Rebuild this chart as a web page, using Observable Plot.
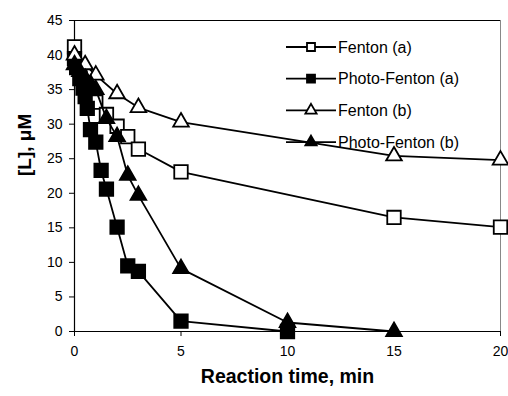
<!DOCTYPE html>
<html>
<head>
<meta charset="utf-8">
<script src="https://cdn.jsdelivr.net/npm/d3@7"></script>
<script src="https://cdn.jsdelivr.net/npm/@observablehq/plot@0.6"></script>
<style>
  html, body { margin: 0; padding: 0; background: #fff; }
  #chart svg { font-family: Arial, "Liberation Sans", sans-serif; }
</style>
</head>
<body>
<div id="chart"></div>
<script>
// Ligand concentration [L] (µM) vs reaction time (min)
const seriesNames = ["Fenton (a)", "Photo-Fenton (a)", "Fenton (b)", "Photo-Fenton (b)"];

const fentonA_t = [0, 0.25, 0.5, 1, 1.5, 2, 2.5, 3, 5, 15, 20];
const fentonA_v = [41.2, 38.0, 35.4, 33.2, 31.4, 29.7, 28.2, 26.4, 23.1, 16.5, 15.1];

const photoA_t = [0, 0.1, 0.25, 0.4, 0.5, 0.6, 0.75, 1, 1.25, 1.5, 2, 2.5, 3, 5, 10];
const photoA_v = [39.5, 38.2, 36.6, 35.2, 34.0, 32.3, 29.2, 27.4, 23.3, 20.6, 15.1, 9.5, 8.7, 1.5, 0];

const fentonB_t = [0, 0.5, 1, 2, 3, 5, 15, 20];
const fentonB_v = [40.0, 38.6, 37.1, 34.4, 32.4, 30.3, 25.4, 24.8];

const photoB_t = [0, 0.25, 0.5, 0.75, 1, 1.5, 2, 2.5, 3, 5, 10, 15];
const photoB_v = [38.6, 37.6, 36.6, 35.8, 35.0, 30.8, 28.2, 22.6, 19.7, 9.1, 1.3, 0];

const xTicks = [0, 5, 10, 15, 20];
const yTicks = [0, 5, 10, 15, 20, 25, 30, 35, 40, 45];

const series = [
  {name: seriesNames[0], t: fentonA_t, v: fentonA_v, symbol: "square", fill: "white", r: 7.6},
  {name: seriesNames[1], t: photoA_t, v: photoA_v, symbol: "square", fill: "black", r: 7.6},
  {name: seriesNames[2], t: fentonB_t, v: fentonB_v, symbol: "triangle", fill: "white", r: 5.8},
  {name: seriesNames[3], t: photoB_t, v: photoB_v, symbol: "triangle", fill: "black", r: 5.8}
].map(s => ({...s, data: s.t.map((t, i) => ({t, v: s.v[i]}))}));

const marks = [
  Plot.ruleY([45], {stroke: "black", strokeWidth: 1}),
  Plot.ruleX([20], {stroke: "#888", strokeWidth: 1}),
  Plot.ruleX([0], {stroke: "black", strokeWidth: 1.2}),
  Plot.ruleY([0], {stroke: "black", strokeWidth: 1.2}),
  Plot.axisX({ticks: xTicks, tickSize: 5, tickPadding: 10, fontSize: 14, label: null, tickFormat: d => d}),
  Plot.axisY({ticks: yTicks, tickSize: 5, tickPadding: 7, fontSize: 14, label: null, tickFormat: d => d}),
  Plot.text(["[L], μM"], {frameAnchor: "left", rotate: -90, dx: -50, fontSize: 19, fontWeight: "bold", fill: "black"}),
  Plot.text(["Reaction time, min"], {frameAnchor: "bottom", dy: 51, fontSize: 19.5, fontWeight: "bold", fill: "black"})
];

for (const s of series) {
  marks.push(Plot.line(s.data, {x: "t", y: "v", stroke: "black", strokeWidth: 1.8}));
  marks.push(Plot.dot(s.data, {x: "t", y: "v", symbol: () => s.symbol, r: s.r, fill: s.fill, stroke: "black", strokeWidth: 1.8}));
}

const chart = Plot.plot({
  width: 508,
  height: 396,
  marginLeft: 74,
  marginRight: 8,
  marginTop: 20,
  marginBottom: 65,
  x: {domain: [0, 20]},
  y: {domain: [0, 45]},
  symbol: {type: "identity"},
  style: {fontFamily: "Arial, 'Liberation Sans', sans-serif", color: "black", background: "white", overflow: "visible"},
  marks
});

// Legend inside the plot area, top right
const svg = d3.select(chart);
const legend = svg.append("g")
  .attr("font-family", "Arial, 'Liberation Sans', sans-serif")
  .attr("font-size", 16)
  .attr("text-anchor", "start");
const symbolGen = {square: d3.symbolSquare, triangle: d3.symbolTriangle};
series.forEach((s, i) => {
  const g = legend.append("g").attr("transform", `translate(286,${47 + i * 31.7})`);
  g.append("line").attr("x1", 0).attr("x2", 50).attr("stroke", "black").attr("stroke-width", 1.8);
  const size = s.symbol === "square" ? 64 : 55;
  g.append("path").attr("transform", "translate(25,0)")
    .attr("d", d3.symbol(symbolGen[s.symbol], size)())
    .attr("fill", s.fill).attr("stroke", "black").attr("stroke-width", 1.8);
  g.append("text").attr("x", 52).attr("dy", "0.35em").attr("fill", "black").text(s.name);
});

document.getElementById("chart").append(chart);
</script>
</body>
</html>
